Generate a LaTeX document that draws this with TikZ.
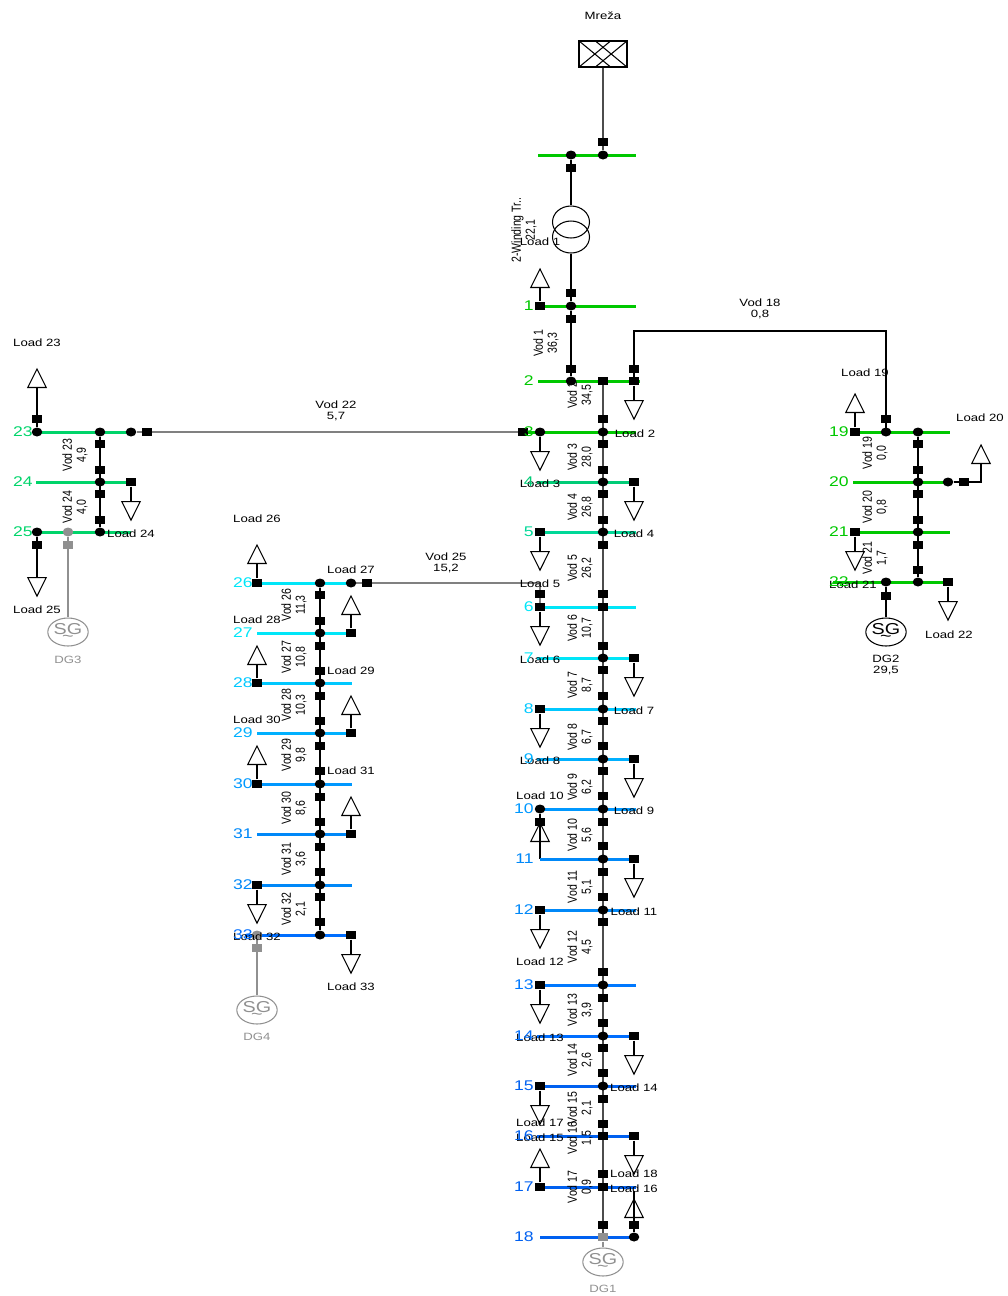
\documentclass[tikz,border=0pt]{standalone}
\usepackage{fontspec}
\setmainfont{Liberation Sans}
\newfontfamily\hfont{Liberation Sans}[FakeStretch=1.25]
\newfontfamily\vfont{Liberation Sans}[FakeStretch=0.8]
\usetikzlibrary{positioning, calc, shapes.geometric, backgrounds}

\definecolor{cg1}{HTML}{00C800}
\definecolor{cg2}{HTML}{00CC77}
\definecolor{cg3}{HTML}{00D898}
\definecolor{cg4}{HTML}{00D46A}
\definecolor{cc1}{HTML}{00E6F8}
\definecolor{cc2}{HTML}{00C8FF}
\definecolor{cb1}{HTML}{00B0FF}
\definecolor{cb2}{HTML}{0098FF}
\definecolor{cb3}{HTML}{0088F8}
\definecolor{cb4}{HTML}{0078FF}
\definecolor{cb5}{HTML}{006EFF}
\definecolor{cb6}{HTML}{0060F0}
\definecolor{dggray}{HTML}{909090}

\newcommand{\busbar}[5]{%
  \coordinate (#1w) at (#3,#2);
  \coordinate (#1e) at (#4,#2);
  \draw[bar, draw=#5] (#1w) -- (#1e);}

\begin{document}
\begin{tikzpicture}[x=0.02cm, y=-0.02cm,
    sw/.style={rectangle, fill=black, minimum width=0.19cm, minimum height=0.17cm, inner sep=0pt},
    swg/.style={sw, fill=dggray},
    jn/.style={ellipse, fill=black, minimum width=0.21cm, minimum height=0.18cm, inner sep=0pt},
    jng/.style={jn, fill=dggray},
    ldup/.style={isosceles triangle, isosceles triangle apex angle=53, shape border rotate=90,
      draw, line width=0.6pt, minimum size=0.37cm, inner sep=0pt, anchor=lower side},
    lddn/.style={ldup, shape border rotate=270},
    trw/.style={ellipse, draw, line width=0.6pt, minimum width=0.74cm, minimum height=0.64cm, inner sep=0pt},
    lbl/.style={font={\hfont\fontsize{6}{6.5}\selectfont}, inner sep=0pt, align=center},
    vod/.style={font={\vfont\fontsize{7.5}{8}\selectfont}, inner sep=0pt, align=center, rotate=90},
    nr/.style={font={\hfont\fontsize{8}{9}\selectfont}, inner sep=0pt, anchor=east},
    gen/.style={ellipse, draw, line width=0.6pt, minimum width=0.7cm, minimum height=0.56cm,
      inner sep=0pt, align=center, font={\hfont\fontsize{9}{9}\selectfont}},
    bar/.style={line width=1.7pt},
    ln/.style={draw=black, line width=0.6pt},
    fd/.style={draw=black!70, line width=0.9pt},
    gln/.style={draw=black!50, line width=0.8pt},
  ]
  \useasboundingbox (0,0) rectangle (1008,1296);

  % bus bars
  \busbar{b0}{155}{538}{636}{cg1}
  \busbar{b1}{306}{538}{636}{cg1}
  \busbar{b2}{381}{538}{640}{cg1}
  \foreach \n/\y/\xa/\xb/\c in {3/432/523/636/cg1, 4/482/537/636/cg2, 5/532/537/636/cg3,
      6/607/537/636/cc1, 7/658/537/636/cc1, 8/709/537/636/cc2, 9/759/537/636/cb1,
      10/809/540/636/cb2, 11/859/540/636/cb3, 12/910/537/636/cb3, 13/985/537/636/cb4,
      14/1036/537/636/cb5, 15/1086/537/636/cb6, 16/1136/537/636/cb6, 17/1187/537/636/cb6,
      18/1237/540/634/cb6}
    {\busbar{b\n}{\y}{\xa}{\xb}{\c}}
  \busbar{b19}{432}{852}{950}{cg1}
  \busbar{b20}{482}{853}{948}{cg1}
  \busbar{b21}{532}{852}{950}{cg1}
  \busbar{b22}{582}{833}{950}{cg1}
  \busbar{b23}{432}{37}{131}{cg4}
  \busbar{b24}{482}{36}{131}{cg4}
  \busbar{b25}{532}{37}{131}{cg4}
  \foreach \n/\y/\xa/\c in {26/583/257/cc1, 27/633/257/cc1, 28/683/257/cc2, 29/733/257/cb1,
      30/784/257/cb2, 31/834/257/cb3, 32/885/257/cb3, 33/935/245/cb5}
    {\busbar{b\n}{\y}{\xa}{352}{\c}}

  % grid and transformer
  \node[lbl] (tmreza) at (603,16) {Mreža};
  \node[draw, line width=0.6pt, minimum width=0.96cm, minimum height=0.52cm, inner sep=0pt] (mreza) at (603,54) {};
  \draw[ln] (mreza.north west) -- ($(mreza.south west)!.667!(mreza.south east)$);
  \draw[ln] (mreza.south west) -- ($(mreza.north west)!.667!(mreza.north east)$);
  \draw[ln] ($(mreza.north west)!.333!(mreza.north east)$) -- (mreza.south east);
  \draw[ln] ($(mreza.south west)!.333!(mreza.south east)$) -- (mreza.north east);
  \node[jn] (j0a) at (571,155) {};
  \node[jn] (j0b) at (603,155) {};
  \node[sw] (s0a) at (571,168) {};
  \node[sw] (s0b) at (603,142) {};
  \node[trw] (tra) at (571,222) {};
  \node[trw] (trb) at (571,237) {};

  % main feeder
  \node[sw] (sl1) at (540,306) {};
  \node[jn] (j1) at (571,306) {};
  \node[sw] (fa1) at (571,293) {};
  \node[sw] (fb1) at (571,319) {};
  \node[sw] (fa2) at (571,369) {};
  \node[jn] (j2) at (571,381) {};
  \node[sw] (sm2) at (603,381) {};
  \node[sw] (sr2) at (634,381) {};
  \node[sw] (st2) at (634,369) {};
  \coordinate (v18) at (760,331);
  \foreach \y in {419,444,470,494,520,545,594,646,670,696,721,746,771,796,822,846,872,897,922,
      972,998,1023,1048,1073,1099,1124,1174,1225}
    \node[sw] (fm\y) at (603,\y) {};
  \foreach \n/\y in {3/432, 4/482, 5/532, 7/658, 8/709, 9/759, 10/809, 11/859, 12/910, 13/985,
      14/1036, 15/1086}
    \node[jn] (j\n) at (603,\y) {};
  \foreach \n/\y in {6/607, 16/1136, 17/1187}
    \node[sw] (j\n) at (603,\y) {};
  \node[swg] (j18) at (603,1237) {};
  \foreach \n/\y in {5/532, 6/607, 8/709, 12/910, 13/985, 15/1086, 17/1187}
    \node[sw] (sl\n) at (540,\y) {};
  \foreach \n/\y in {4/482, 7/658, 9/759, 11/859, 14/1036, 16/1136}
    \node[sw] (sr\n) at (634,\y) {};
  \node[jn] (jl3) at (540,432) {};
  \node[sw] (sv22) at (523,432) {};
  \node[sw] (st6) at (540,594) {};
  \node[jn] (jl10) at (540,809) {};
  \node[sw] (sb10) at (540,822) {};
  \node[sw] (sb18) at (634,1225) {};
  \node[jn] (jr18) at (634,1237) {};
  \coordinate (c18) at (634,1191);
  \node[gen, draw=dggray, text=dggray] (sg1) at (603,1262) {SG\\[-5pt]\textasciitilde};

  % right feeder
  \node[sw] (sl19) at (855,432) {};
  \node[jn] (j19a) at (886,432) {};
  \node[jn] (j19) at (918,432) {};
  \node[sw] (st19) at (886,419) {};
  \node[jn] (j20) at (918,482) {};
  \node[jn] (j20r) at (948,482) {};
  \node[sw] (sr20) at (964,482) {};
  \node[sw] (sl21) at (855,532) {};
  \node[jn] (j21) at (918,532) {};
  \node[jn] (j22a) at (886,582) {};
  \node[jn] (j22) at (918,582) {};
  \node[sw] (sr22) at (948,582) {};
  \node[sw] (sb22) at (886,596) {};
  \node[gen] (sg2) at (886,632) {SG\\[-5pt]\textasciitilde};
  \foreach \y in {444,470,494,520,545,570}
    \node[sw] (fr\y) at (918,\y) {};

  % left feeder
  \node[jn] (jl23) at (37,432) {};
  \node[sw] (st23) at (37,419) {};
  \node[jn] (j23) at (100,432) {};
  \node[jn] (jr23) at (131,432) {};
  \node[sw] (sr23) at (147,432) {};
  \node[jn] (j24) at (100,482) {};
  \node[sw] (sr24) at (131,482) {};
  \node[jn] (jl25) at (37,532) {};
  \node[jng] (jg25) at (68,532) {};
  \node[jn] (j25) at (100,532) {};
  \node[sw] (sb25) at (37,545) {};
  \node[swg] (sgb25) at (68,545) {};
  \node[gen, draw=dggray, text=dggray] (sg3) at (68,632) {SG\\[-5pt]\textasciitilde};
  \foreach \y in {444,470,494,520}
    \node[sw] (fl\y) at (100,\y) {};

  % middle feeder
  \foreach \n/\y in {26/583, 28/683, 30/784, 32/885}
    \node[sw] (sl\n) at (257,\y) {};
  \foreach \n/\y in {27/633, 29/733, 31/834, 33/935}
    \node[sw] (sr\n) at (351,\y) {};
  \foreach \n/\y in {26/583, 27/633, 28/683, 29/733, 30/784, 31/834, 32/885, 33/935}
    \node[jn] (j\n) at (320,\y) {};
  \node[jn] (jr26) at (351,583) {};
  \node[sw] (sv25) at (367,583) {};
  \node[jng] (jg33) at (257,935) {};
  \node[swg] (sgb33) at (257,948) {};
  \node[gen, draw=dggray, text=dggray] (sg4) at (257,1010) {SG\\[-5pt]\textasciitilde};
  \foreach \y in {595,621,646,671,696,721,746,771,797,822,847,872,897,922}
    \node[sw] (fc\y) at (320,\y) {};

  % loads
  \foreach \k/\x/\y/\src in {2/634/400/sr2, 3/540/451/jl3, 4/634/501/sr4, 5/540/551/sl5,
      6/540/626/sl6, 7/634/677/sr7, 8/540/728/sl8, 9/634/778/sr9, 11/634/878/sr11,
      12/540/929/sl12, 13/540/1004/sl13, 14/634/1055/sr14, 15/540/1105/sl15, 16/634/1155/sr16,
      21/855/551/sl21, 22/948/601/sr22, 24/131/501/sr24, 25/37/577/jl25, 32/257/904/sl32,
      33/351/954/sr33}
  {
    \node[lddn] (ld\k) at (\x,\y) {};
    \begin{scope}[on background layer]
      \draw[ln] (\src) -- (ld\k.lower side);
    \end{scope}
  }
  \foreach \k/\x/\y/\src in {1/540/288/sl1, 17/540/1168/sl17, 19/855/413/sl19, 23/37/388/jl23,
      26/257/564/sl26, 27/351/615/sr27, 28/257/665/sl28, 29/351/715/sr29, 30/257/765/sl30,
      31/351/816/sr31}
  {
    \node[ldup] (ld\k) at (\x,\y) {};
    \begin{scope}[on background layer]
      \draw[ln] (\src) -- (ld\k.lower side);
    \end{scope}
  }
  \node[ldup] (ld10) at (540,842) {};
  \node[ldup] (ld18) at (634,1218) {};
  \node[ldup] (ld20) at (981,464) {};

  % lines
  \begin{scope}[on background layer]
    \draw[fd] (mreza.south) -- (j0b);
    \draw[ln] (j0a) -- (tra.north);
    \draw[ln] (trb.south) -- (j1);
    \draw[ln] (j1) -- (j2);
    \draw[fd] (sm2.center) -- (j18.center);
    \draw[ln] (sr2.center) |- (v18) -| (j19a.center);
    \draw[ln] (j19) -- (j22);
    \draw[ln] (j20r) -- (sr20.center) -| (ld20.lower side);
    \draw[ln] (j22a) -- (sg2);
    \draw[ln] (j23) -- (j25);
    \draw[gln] (jr23) -- (sv22);
    \draw[gln, draw=dggray] (jg25) -- (sg3);
    \draw[ln] (j26) -- (j33);
    \draw[gln] (jr26.center) -| (sl6.center);
    \draw[gln, draw=dggray] (jg33) -- (sg4);
    \draw[gln, draw=dggray] (j18) -- (sg1);
    \draw[ln] (jl10) -- (b11w);
    \draw[ln] (jr18) -- (c18);
  \end{scope}

  % texts
  \node[vod] (ttr) at (524,230) {2-Winding Tr..\\22,1};
  \node[lbl] (tl1) at (540,242) {Load 1};
  \node[vod] (tv1) at (546,343) {Vod 1\\36,3};
  \node[lbl] (tv18) at (760,309) {Vod 18\\0,8};
  \node[lbl] (tv22) at (336,411) {Vod 22\\5,7};
  \node[lbl] (tv25) at (446,563) {Vod 25\\15,2};
  \foreach \n/\y/\val in {2/395/34{,}5, 3/457/28{,}0, 4/507/26{,}8, 5/568/26{,}2, 6/628/10{,}7,
      7/685/8{,}7, 8/737/6{,}7, 9/787/6{,}2, 10/835/5{,}6, 11/887/5{,}1, 12/947/4{,}5,
      13/1010/3{,}9, 14/1060/2{,}6, 15/1108/2{,}1, 16/1138/1{,}5, 17/1187/0{,}9}
    \node[vod] (tv\n) at (580,\y) {Vod \n\\\val};
  \foreach \n/\y/\val in {19/453/0{,}0, 20/507/0{,}8, 21/558/1{,}7}
    \node[vod] (tv\n) at (875,\y) {Vod \n\\\val};
  \foreach \n/\y/\val in {23/455/4{,}9, 24/507/4{,}0}
    \node[vod] (tv\n) at (75,\y) {Vod \n\\\val};
  \foreach \n/\y/\val in {26/605/11{,}3, 27/657/10{,}8, 28/705/10{,}3, 29/755/9{,}8,
      30/808/8{,}6, 31/859/3{,}6, 32/909/2{,}1}
    \node[vod] (tv\n) at (294,\y) {Vod \n\\\val};
  \foreach \k/\x/\y in {2/635/434, 3/540/484, 4/634/534, 5/540/584, 6/540/660, 7/634/711,
      8/540/761, 9/634/811, 10/540/796, 11/634/912, 12/540/962, 13/540/1038, 14/634/1088,
      15/540/1138, 16/634/1189, 17/540/1123, 18/634/1174, 19/865/373, 20/980/418, 21/853/585,
      22/949/635, 23/37/343, 24/131/534, 25/37/610, 26/257/519, 27/351/570, 28/257/620,
      29/351/671, 30/257/720, 31/351/771, 32/257/937, 33/351/987}
    \node[lbl] (tl\k) at (\x,\y) {Load \k};
  \node[lbl, text=dggray] (tdg1) at (603,1289) {DG1};
  \node[lbl] (tdg2) at (886,665) {DG2\\29,5};
  \node[lbl, text=dggray] (tdg3) at (68,660) {DG3};
  \node[lbl, text=dggray] (tdg4) at (257,1037) {DG4};

  % bus numbers
  \foreach \n/\x/\y/\c in {1/534/306/cg1, 2/534/381/cg1, 3/534/432/cg1, 4/534/482/cg2,
      5/534/532/cg3, 6/534/607/cc1, 7/534/658/cc1, 8/534/709/cc2, 9/534/759/cb1,
      10/534/809/cb2, 11/534/859/cb3, 12/534/910/cb3, 13/534/985/cb4, 14/534/1036/cb5,
      15/534/1086/cb6, 16/534/1136/cb6, 17/534/1187/cb6, 18/534/1237/cb6,
      19/849/432/cg1, 20/849/482/cg1, 21/849/532/cg1, 22/849/582/cg1,
      23/33/432/cg4, 24/33/482/cg4, 25/33/532/cg4,
      26/253/583/cc1, 27/253/633/cc1, 28/253/683/cc2, 29/253/733/cb1, 30/253/784/cb2,
      31/253/834/cb3, 32/253/885/cb3, 33/253/935/cb5}
    \node[nr, text=\c] (n\n) at (\x,\y) {\n};
\end{tikzpicture}
\end{document}
